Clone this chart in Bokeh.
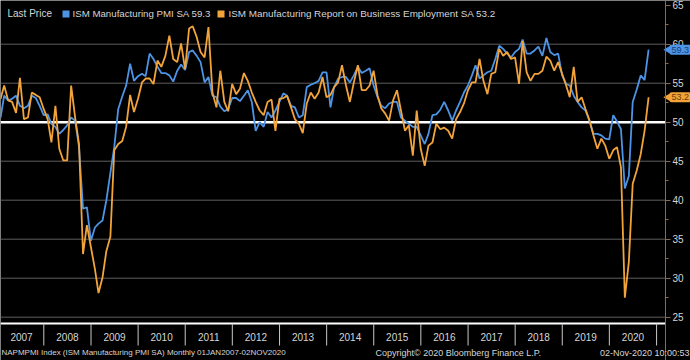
import math
import pandas as pd
from bokeh.plotting import figure
from bokeh.models import (Range1d, FixedTicker, Label, BoxAnnotation,
                          ColumnDataSource, DatetimeTickFormatter)
from bokeh.embed import file_html
from bokeh.resources import INLINE

# ---- data (monthly, Jan 2007 - Oct 2020) ----
pmi_2007 = [50.6, 53.4, 52.8, 53.0, 53.4, 52.1, 51.8, 52.1, 53.4, 53.1, 52.1, 50.9]
pmi_2008 = [51.0, 49.8, 49.4, 48.5, 49.0, 49.6, 50.6, 50.2, 46.8, 38.9, 39.1, 34.8]
pmi_2009 = [36.5, 37.0, 37.4, 40.0, 43.5, 46.8, 51.7, 53.3, 54.7, 57.5, 55.3, 55.9]
pmi_2010 = [56.2, 55.9, 58.8, 58.1, 57.1, 56.3, 56.3, 56.0, 55.2, 56.6, 57.4, 56.7]
pmi_2011 = [59.0, 59.2, 58.5, 57.7, 55.1, 55.8, 53.4, 53.2, 52.0, 51.4, 51.7, 53.1]
pmi_2012 = [53.1, 52.7, 53.4, 54.1, 52.6, 48.9, 50.0, 49.4, 51.3, 50.6, 51.5, 52.6]
pmi_2013 = [53.7, 53.4, 52.1, 51.9, 50.6, 50.9, 54.5, 54.8, 55.0, 55.3, 56.4, 56.4]
pmi_2014 = [51.9, 54.5, 55.6, 55.8, 55.8, 55.1, 56.0, 57.1, 56.3, 56.6, 56.9, 54.7]
pmi_2015 = [53.2, 52.1, 51.8, 52.4, 52.6, 52.6, 50.6, 50.2, 49.8, 49.4, 49.4, 48.3]
pmi_2016 = [47.2, 48.5, 50.9, 51.0, 51.6, 52.6, 51.5, 50.2, 51.5, 52.6, 53.8, 54.7]
pmi_2017 = [56.0, 57.3, 55.6, 56.0, 56.4, 56.6, 58.1, 59.8, 59.4, 58.8, 58.3, 59.0]
pmi_2018 = [59.4, 60.6, 58.8, 58.8, 59.2, 59.7, 58.5, 60.8, 59.0, 58.6, 58.8, 56.0]
pmi_2019 = [54.9, 54.7, 53.4, 52.6, 51.9, 51.5, 50.2, 48.5, 48.5, 48.3, 47.9, 47.8]
pmi_2020 = [50.9, 50.1, 49.1, 41.5, 43.1, 52.6, 54.2, 56.0, 55.4, 59.3]

emp_2007 = [53.0, 54.7, 52.8, 52.6, 51.2, 55.7, 50.4, 50.6, 53.8, 53.5, 53.2, 51.7]
emp_2008 = [50.4, 47.4, 52.1, 46.6, 45.1, 45.1, 54.7, 50.6, 47.2, 33.1, 36.8, 34.0]
emp_2009 = [31.2, 28.1, 30.1, 33.5, 35.3, 46.4, 47.2, 47.6, 49.4, 53.5, 51.3, 53.0]
emp_2010 = [55.1, 55.6, 55.6, 54.9, 57.9, 57.1, 58.5, 61.1, 58.1, 57.7, 60.1, 56.8]
emp_2011 = [62.0, 62.3, 60.9, 59.0, 58.3, 62.2, 53.8, 51.9, 56.6, 52.6, 51.4, 54.9]
emp_2012 = [53.6, 54.3, 56.3, 55.3, 53.8, 52.6, 51.5, 50.9, 52.6, 52.9, 48.9, 53.0]
emp_2013 = [53.1, 53.4, 51.9, 50.4, 49.8, 48.6, 52.4, 53.8, 53.0, 53.8, 55.8, 53.2]
emp_2014 = [53.5, 54.5, 55.1, 57.3, 54.7, 52.6, 55.1, 57.3, 54.1, 54.1, 54.7, 56.6]
emp_2015 = [53.4, 51.8, 51.1, 50.2, 52.8, 54.1, 51.5, 48.9, 49.6, 45.7, 51.5, 46.6]
emp_2016 = [44.4, 47.0, 47.4, 49.8, 49.1, 49.3, 48.9, 47.9, 50.4, 51.3, 52.4, 54.1]
emp_2017 = [55.1, 55.1, 58.1, 55.3, 53.6, 56.2, 56.4, 59.4, 58.5, 59.0, 58.1, 58.3]
emp_2018 = [54.9, 60.4, 56.4, 55.3, 56.2, 56.2, 56.6, 58.4, 57.9, 56.6, 57.7, 56.2]
emp_2019 = [54.7, 53.2, 57.1, 52.6, 53.2, 51.7, 50.2, 48.3, 46.6, 47.9, 47.0, 45.3]
emp_2020 = [46.4, 46.8, 44.2, 27.5, 32.1, 42.1, 43.8, 45.9, 48.9, 53.2]

pmi = (pmi_2007 + pmi_2008 + pmi_2009 + pmi_2010 + pmi_2011 + pmi_2012 + pmi_2013
       + pmi_2014 + pmi_2015 + pmi_2016 + pmi_2017 + pmi_2018 + pmi_2019 + pmi_2020)
emp = (emp_2007 + emp_2008 + emp_2009 + emp_2010 + emp_2011 + emp_2012 + emp_2013
       + emp_2014 + emp_2015 + emp_2016 + emp_2017 + emp_2018 + emp_2019 + emp_2020)
dates = pd.date_range("2007-01-31", periods=len(pmi), freq="ME")

year_labels = list(range(2007, 2021))
y_ticks = [25, 30, 35, 40, 45, 50, 55, 60, 65]
y_minor = [27.5, 32.5, 37.5, 42.5, 47.5, 52.5, 57.5, 62.5]
grid_levels = [25, 30, 35, 40, 45, 55, 60]
ref_level = 50

pmi_name = "ISM Manufacturing PMI SA"
emp_name = "ISM Manufacturing Report on Business Employment SA"
footer_left = "NAPMPMI Index (ISM Manufacturing PMI SA)  Monthly 01JAN2007-02NOV2020"
footer_mid = "Copyright\u00a9 2020 Bloomberg Finance L.P."
footer_right = "02-Nov-2020 10:00:53"

# ---- style / geometry (pixels of the 690x360 canvas) ----
BLUE = "#4d94e6"
ORANGE = "#f2a33a"
TXT = "#d6d6d6"
AXIS = "#8c6a4c"
FONT = "Liberation Sans"

W, H = 690, 360
AX_X = 665          # pixel column of the value axis
BASE_Y = 323        # pixel row of the time axis
Y50_PX, PX_PER_UNIT = 121.7, 7.8
ORIGIN, ORIGIN_PX, PX_PER_YEAR = pd.Timestamp("2007-01-01"), -3.8, 47.13
PX_PER_DAY = PX_PER_YEAR / 365.25


def px2date(px):
    return ORIGIN + pd.Timedelta(days=(px - ORIGIN_PX) / PX_PER_DAY)


def py2val(py):
    return ref_level + (Y50_PX - py) / PX_PER_UNIT


def ms(ts):
    return pd.Timestamp(ts).value / 1e6


x_start, x_axis, x_end = px2date(0), px2date(AX_X), px2date(W)
y_top, y_base, y_bot = py2val(0), py2val(BASE_Y), py2val(H)

p = figure(width=W, height=H, output_backend="svg", toolbar_location=None,
           x_axis_type="datetime", y_axis_location="right",
           x_range=Range1d(x_start, x_end), y_range=Range1d(y_bot, y_top),
           background_fill_color="black", border_fill_color="black",
           min_border=0, min_border_left=0, min_border_top=0,
           min_border_right=0, min_border_bottom=0)
p.outline_line_color = None
p.xgrid.visible = False
p.ygrid.visible = False

# horizontal grid lines ending at the axis
n = len(grid_levels)
p.segment(x0=[x_start] * n, x1=[x_axis] * n, y0=grid_levels, y1=grid_levels,
          line_color="#5e5e5e", line_width=1)
# time-axis base line and year separators
p.segment(x0=[x_start], x1=[x_axis], y0=[y_base], y1=[y_base],
          line_color="white", line_width=2)
sep_dates = [pd.Timestamp(f"{y}-01-01") for y in year_labels[1:] + [year_labels[-1] + 1]]
sep_len = 22 / PX_PER_UNIT
p.segment(x0=sep_dates, x1=sep_dates, y0=[y_base] * len(sep_dates),
          y1=[y_base - sep_len] * len(sep_dates), line_color="#c8c8c8", line_width=1)

# right value axis, pinned at its column
ya = p.yaxis[0]
ya.fixed_location = ms(x_axis)
ya.ticker = FixedTicker(ticks=y_ticks, minor_ticks=y_minor)
ya.axis_line_color = AXIS
ya.axis_line_width = 1
ya.major_tick_line_color = AXIS
ya.minor_tick_line_color = AXIS
ya.major_tick_in = 0
ya.major_tick_out = 5
ya.minor_tick_in = 0
ya.minor_tick_out = 3
ya.major_label_text_color = TXT
ya.major_label_text_font = FONT
ya.major_label_text_font_size = "10px"
ya.major_label_standoff = 2

# time axis: years centred in their segments
first_mid = px2date(21)
mids = [ms(first_mid)] + [ms(f"{y}-07-02") for y in year_labels[1:]]
xa = p.xaxis[0]
xa.fixed_location = y_base
xa.ticker = FixedTicker(ticks=mids, minor_ticks=[])
fmt = "%Y"
xa.formatter = DatetimeTickFormatter(microseconds=fmt, milliseconds=fmt, seconds=fmt,
                                     minsec=fmt, minutes=fmt, hourmin=fmt, hours=fmt,
                                     days=fmt, months=fmt, years=fmt)
xa.axis_line_color = None
xa.major_tick_in = 0
xa.major_tick_out = 0
xa.minor_tick_in = 0
xa.minor_tick_out = 0
xa.major_label_text_color = TXT
xa.major_label_text_font = FONT
xa.major_label_text_font_size = "10px"
xa.major_label_standoff = 9

# 50 reference line
p.segment(x0=[x_start], x1=[x_axis], y0=[ref_level], y1=[ref_level],
          line_color="white", line_width=2.5)

src = ColumnDataSource(dict(date=dates, pmi=pmi, emp=emp))
p.line("date", "pmi", source=src, line_color=BLUE, line_width=1.8)
p.line("date", "emp", source=src, line_color=ORANGE, line_width=1.8)

# legend strip
ly = H - 13
p.add_layout(Label(x=7, y=ly, x_units="screen", y_units="screen", text="Last Price",
                   text_color=TXT, text_font=FONT, text_font_size="10px",
                   text_baseline="middle"))
p.add_layout(BoxAnnotation(left=62, right=69, bottom=ly - 4, top=ly + 3,
                           left_units="screen", right_units="screen",
                           bottom_units="screen", top_units="screen",
                           fill_color=BLUE, fill_alpha=1, line_color=None))
p.add_layout(Label(x=72, y=ly, x_units="screen", y_units="screen",
                   text=f"{pmi_name} {pmi[-1]}", text_color=TXT, text_font=FONT,
                   text_font_size="9.7px", text_baseline="middle"))
p.add_layout(BoxAnnotation(left=217, right=224, bottom=ly - 4, top=ly + 3,
                           left_units="screen", right_units="screen",
                           bottom_units="screen", top_units="screen",
                           fill_color=ORANGE, fill_alpha=1, line_color=None))
p.add_layout(Label(x=228, y=ly, x_units="screen", y_units="screen",
                   text=f"{emp_name} {emp[-1]}", text_color=TXT, text_font=FONT,
                   text_font_size="9.9px", text_baseline="middle"))

# last-value badges on the axis (tag shape: pointer + rounded box)
tag_x = px2date(AX_X + 3)
p.scatter(x=[tag_x, tag_x], y=[pmi[-1], emp[-1]], marker="triangle",
          angle=math.pi / 2, size=9, fill_color=[BLUE, ORANGE], line_color=None)
p.add_layout(Label(x=AX_X + 4, y=pmi[-1], x_units="screen", y_units="data",
                   text=f"{pmi[-1]}", text_color="#173f73", text_font=FONT,
                   text_font_size="9px", text_baseline="middle",
                   background_fill_color=BLUE, background_fill_alpha=1,
                   border_radius=2, padding=2))
p.add_layout(Label(x=AX_X + 4, y=emp[-1], x_units="screen", y_units="data",
                   text=f"{emp[-1]}", text_color="#6b3d08", text_font=FONT,
                   text_font_size="9px", text_baseline="middle",
                   background_fill_color=ORANGE, background_fill_alpha=1,
                   border_radius=2, padding=2))

# footer
fy = H - 352
p.add_layout(Label(x=1, y=fy, x_units="screen", y_units="screen", text=footer_left,
                   text_color=TXT, text_font=FONT, text_font_size="8px",
                   text_baseline="middle"))
p.add_layout(Label(x=375, y=fy, x_units="screen", y_units="screen", text=footer_mid,
                   text_color=TXT, text_font=FONT, text_font_size="9px",
                   text_baseline="middle"))
p.add_layout(Label(x=W - 1, y=fy, x_units="screen", y_units="screen", text=footer_right,
                   text_align="right", text_color=TXT, text_font=FONT,
                   text_font_size="9px", text_baseline="middle"))

open("out.html", "w").write(file_html(p, INLINE))
